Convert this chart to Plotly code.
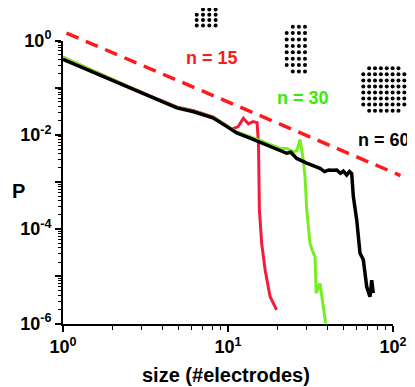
import plotly.graph_objects as go

# avalanche size distributions (size in #electrodes, P)
size_n60 = [1.0, 1.5, 2.4, 3.5, 4.9, 6.2, 8.1, 9.8, 11.3, 13.6, 17.2, 20.7, 22.7, 24.0,
            26.1, 30.0, 36.1, 38.5, 40.8, 43.0, 45.6, 48.0, 50.0, 52.4, 54.5, 56.2,
            57.5, 60.3, 63.1, 66.1, 69.3, 72.5, 74.3, 75.9]
p_n60 = [0.398, 0.219, 0.107, 0.0603, 0.0372, 0.0309, 0.0229, 0.0151, 0.011, 0.0085,
         0.00617, 0.00479, 0.00407, 0.00427, 0.00316, 0.00251, 0.00195, 0.00166,
         0.0018, 0.00178, 0.0018, 0.00153, 0.0017, 0.00141, 0.00166, 0.00151,
         0.00049, 0.000155, 3.1e-5, 2.24e-5, 6.0e-6, 3.7e-6, 8.3e-6, 4.4e-6]

size_n30 = [1.0, 1.5, 2.4, 3.5, 4.9, 6.2, 8.1, 9.8, 11.3, 13.6, 17.2, 20.7, 22.7, 24.9,
            26.1, 27.3, 28.6, 29.3, 30.0, 31.4, 32.9, 33.7, 34.2, 36.1, 37.8, 39.1]
p_n30 = [0.437, 0.229, 0.11, 0.0617, 0.038, 0.0316, 0.0234, 0.0158, 0.0115, 0.00912,
         0.0066, 0.00513, 0.00513, 0.00437, 0.00457, 0.00794, 0.00295, 0.00129,
         0.000257, 5.0e-5, 3.1e-5, 2.6e-5, 4.4e-6, 7.1e-6, 2.3e-6, 1.0e-6]

size_n15 = [1.0, 1.5, 2.4, 3.5, 4.9, 6.2, 8.1, 9.8, 10.5, 11.5, 12.4, 13.3, 14.2, 15.0,
            15.3, 15.5, 16.0, 16.8, 18.0, 19.7]
p_n15 = [0.437, 0.229, 0.112, 0.0631, 0.0389, 0.0324, 0.024, 0.0158, 0.0132, 0.0148,
         0.0224, 0.017, 0.0191, 0.0182, 0.0066, 0.000257, 5.0e-5, 1.35e-5, 3.7e-6, 1.95e-6]

# power-law guide (slope -3/2)
guide_size = [1.05, 111.0]
guide_p = [1.44, 0.00137]

x_tickvals = [1, 10, 100]
x_ticktext = ["10<sup>0</sup>", "10<sup>1</sup>", "10<sup>2</sup>"]
y_tickvals = [1e-6, 1e-5, 1e-4, 1e-3, 1e-2, 1e-1, 1]
y_ticktext = ["10<sup>-6</sup>", "", "10<sup>-4</sup>", "", "10<sup>-2</sup>", "", "10<sup>0</sup>"]

labels = ["n = 15", "n = 30", "n = 60"]
label_colors = ["#ff1a1a", "#33ee00", "black"]

RED = "#f41c3c"
GREEN = "#77ee22"
FONT = "Liberation Sans"

# the page body puts the figure 8px in from the window corner
OFF = 8
WIN_W, WIN_H = 415, 387
W, H = WIN_W - OFF, WIN_H - OFF

# plot box in window pixels (left, right, top, bottom)
PL, PR, PT, PB = 63, 393, 40.5, 323.5
px_per_x = (PR - PL) / 2
px_per_y = (PB - PT) / 6


def xdom(a, b):
    return [(a - OFF) / W, (b - OFF) / W]


def ydom(top, bottom):
    return [1 - (bottom - OFF) / H, 1 - (top - OFF) / H]


fig = go.Figure()
for xs, ys, color, width in [(size_n15, p_n15, RED, 3),
                             (size_n30, p_n30, GREEN, 3),
                             (size_n60, p_n60, "black", 3.5)]:
    fig.add_trace(go.Scatter(x=xs, y=ys, mode="lines", line=dict(color=color, width=width),
                             xaxis="x", yaxis="y", showlegend=False, hoverinfo="skip"))

# guide sits on a larger log subplot with the same scale so it can run past the axes
fig.add_trace(go.Scatter(x=guide_size, y=guide_p, mode="lines",
                         line=dict(color="#ff1a1a", width=3.5, dash="13px,8px"),
                         xaxis="x2", yaxis="y2", showlegend=False, hoverinfo="skip"))


def grid_dots(x0, y0, dx, dy, ncol, nrow, missing):
    xs, ys = [], []
    for r in range(nrow):
        for c in range(ncol):
            if (r, c) in missing:
                continue
            xs.append(x0 + c * dx)
            ys.append(y0 + r * dy)
    return xs, ys


# electrode array sketches, in window pixels on the overlay subplot
arrays = [
    grid_dots(196.7, 9.5, 6.3, 5.3, 4, 4, {(0, 0)}),
    grid_dots(286.7, 26.7, 6.1, 6.4, 4, 8, {(0, 0), (7, 0)}),
    grid_dots(363.3, 68.3, 5.86, 6.05, 8, 8, {(0, 0), (0, 7), (7, 0), (7, 7)}),
]
for xs, ys in arrays:
    fig.add_trace(go.Scatter(x=xs, y=ys, mode="markers", cliponaxis=False,
                             marker=dict(size=4, color="black"),
                             xaxis="x3", yaxis="y3", showlegend=False, hoverinfo="skip"))

label_pos = [(212, 58), (303, 98), (384, 140)]
for text, color, (lx, ly) in zip(labels, label_colors, label_pos):
    fig.add_annotation(x=lx, y=ly, xref="x3", yref="y3", text=text, showarrow=False,
                       font=dict(family=FONT, size=18, color=color, weight="bold"))

fig.add_annotation(x=18, y=191, xref="x3", yref="y3", text="P", showarrow=False,
                   font=dict(family=FONT, size=20, color="black", weight="bold"))
fig.add_annotation(x=226, y=375, xref="x3", yref="y3", text="size (#electrodes)",
                   showarrow=False, font=dict(family=FONT, size=20, color="black", weight="bold"))

tickfont = dict(family=FONT, size=18, color="black", weight="bold")
minor_x = [k * 10 ** e for e in range(0, 2) for k in range(2, 10)]
minor_y = [k * 10.0 ** e for e in range(-6, 0) for k in range(2, 10)]

fig.update_layout(
    template="none",
    width=W, height=H,
    margin=dict(l=0, r=0, t=0, b=0, pad=0),
    paper_bgcolor="white", plot_bgcolor="rgba(0,0,0,0)",
    showlegend=False,
    xaxis=dict(type="log", range=[0, 2], domain=xdom(PL, PR), anchor="y", automargin=False,
               showgrid=False, zeroline=False, showline=True, linecolor="black", linewidth=2,
               ticks="outside", ticklen=6, tickwidth=1.5, tickcolor="black",
               tickmode="array", tickvals=x_tickvals, ticktext=x_ticktext, tickfont=tickfont,
               minor=dict(tickmode="array", tickvals=minor_x, ticks="outside", ticklen=4,
                          tickwidth=1, tickcolor="black", showgrid=False)),
    yaxis=dict(type="log", range=[-6, 0], domain=ydom(PT, PB), anchor="x", automargin=False,
               showgrid=False, zeroline=False, showline=True, linecolor="black", linewidth=2,
               ticks="outside", ticklen=6, tickwidth=1.5, tickcolor="black",
               tickmode="array", tickvals=y_tickvals, ticktext=y_ticktext, tickfont=tickfont,
               minor=dict(tickmode="array", tickvals=minor_y, ticks="outside", ticklen=3,
                          tickwidth=1, tickcolor="black", showgrid=False)),
    xaxis2=dict(type="log", range=[0, (WIN_W - PL) / px_per_x], domain=xdom(PL, WIN_W),
                anchor="y2", visible=False, automargin=False),
    yaxis2=dict(type="log", range=[-6, -6 + (PB - OFF) / px_per_y], domain=ydom(OFF, PB),
                anchor="x2", visible=False, automargin=False),
    xaxis3=dict(range=[OFF, WIN_W], domain=[0, 1], anchor="y3", visible=False, automargin=False),
    yaxis3=dict(range=[WIN_H, OFF], domain=[0, 1], anchor="x3", visible=False, automargin=False),
)

fig.write_html("out.html")
